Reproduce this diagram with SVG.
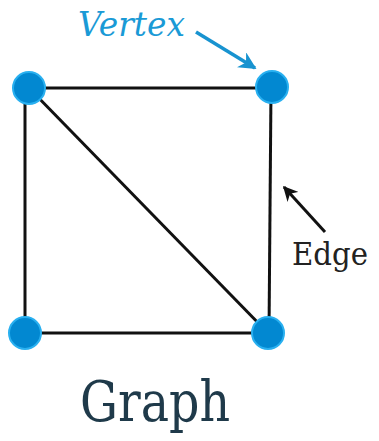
<svg xmlns="http://www.w3.org/2000/svg" width="379" height="441" viewBox="0 0 379 441">
<defs>
<marker id="ab" viewBox="0 0 10 10" refX="9" refY="5" markerWidth="5" markerHeight="5" orient="auto" markerUnits="strokeWidth"><path d="M0,0 L10,5 L0,10 L3,5 Z" fill="#1893d0"/></marker>
<marker id="ak" viewBox="0 0 10 10" refX="9" refY="5" markerWidth="5" markerHeight="5" orient="auto" markerUnits="strokeWidth"><path d="M0,0 L10,5 L0,10 L3,5 Z" fill="#111"/></marker>
</defs>
<style>
.e{stroke:#111;stroke-width:3;fill:none}
.v{fill:#0288d1;stroke:#29b0f0;stroke-width:2}
</style>
<rect width="379" height="441" fill="#fff"/>
<g id="connectors">
<line class="e" x1="29" y1="88" x2="272" y2="88"/>
<line class="e" x1="25" y1="88" x2="25" y2="333"/>
<line class="e" x1="271" y1="88" x2="269" y2="333"/>
<line class="e" x1="25" y1="333" x2="268" y2="333"/>
<line class="e" x1="29" y1="88" x2="268" y2="333"/>
<line x1="196" y1="32" x2="255" y2="68" stroke="#1893d0" stroke-width="3.5" marker-end="url(#ab)"/>
<line x1="325" y1="232" x2="284" y2="187" stroke="#111" stroke-width="3" marker-end="url(#ak)"/>
</g>
<g id="v1"><circle class="v" cx="29" cy="88" r="16"/></g>
<g id="v2"><circle class="v" cx="272" cy="87" r="16"/></g>
<g id="v3"><circle class="v" cx="25" cy="333" r="16"/></g>
<g id="v4"><circle class="v" cx="268" cy="333" r="16"/></g>
<g id="label-vertex"><text x="78" y="36" font-family="DejaVu Serif, serif" font-size="34" font-style="italic" fill="#1a9ad6" textLength="107" lengthAdjust="spacingAndGlyphs">Vertex</text></g>
<g id="label-edge"><text x="292" y="265" font-family="DejaVu Serif, serif" font-size="32" fill="#222" textLength="76" lengthAdjust="spacingAndGlyphs">Edge</text></g>
<g id="label-graph"><text x="80" y="421" font-family="DejaVu Serif, serif" font-size="56" fill="#1f3a4a" textLength="150" lengthAdjust="spacingAndGlyphs">Graph</text></g>
</svg>
